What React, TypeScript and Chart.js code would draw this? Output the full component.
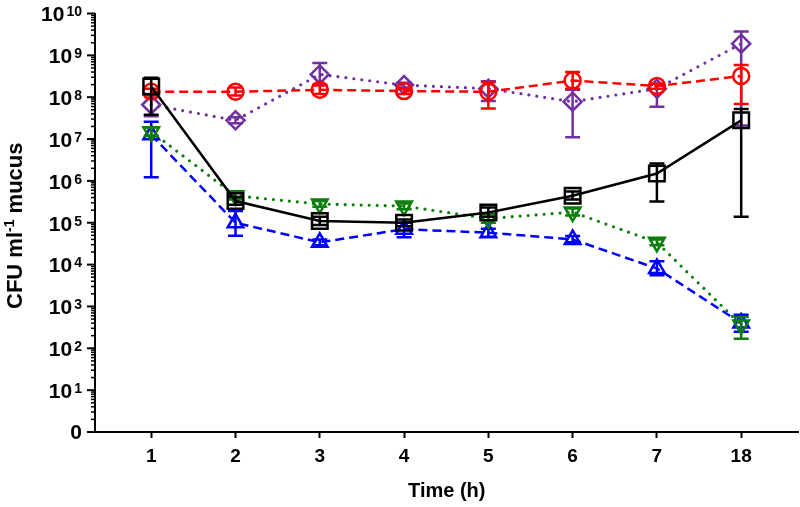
import React, { useEffect, useRef } from 'react';
import { Chart, registerables } from 'chart.js';

Chart.register(...registerables);

// ---- data ----
const TIME_LABELS = ['1', '2', '3', '4', '5', '6', '7', '18'];
const Y_TICKS = [1, 1e1, 1e2, 1e3, 1e4, 1e5, 1e6, 1e7, 1e8, 1e9, 1e10];

const BLACK = [1.8e8, 3.3e5, 1.1e5, 1.0e5, 1.75e5, 4.4e5, 1.5e6, 2.8e7];
const BLACK_LO = [3.8e7, 2.7e5, 8.8e4, 8.2e4, 1.4e5, 3.6e5, 3.2e5, 1.4e5];
const BLACK_HI = [2.9e8, 4.1e5, 1.4e5, 1.2e5, 2.3e5, 5.6e5, 2.6e6, 5.2e7];

const RED = [1.35e8, 1.35e8, 1.5e8, 1.4e8, 1.35e8, 2.5e8, 1.85e8, 3.2e8];
const RED_LO = [1.1e8, 1.1e8, 1.2e8, 1.2e8, 5.4e7, 1.6e8, 1.6e8, 6.9e7];
const RED_HI = [1.6e8, 1.7e8, 1.9e8, 1.6e8, 2.3e8, 4.0e8, 2.1e8, 5.9e8];

const PURPLE = [6.6e7, 2.8e7, 3.5e8, 1.95e8, 1.6e8, 7.8e7, 1.6e8, 1.9e9];
const PURPLE_LO = [3.5e7, 2.4e7, 2.0e8, 1.7e8, 8.1e7, 1.1e7, 5.9e7, 2.1e7];
const PURPLE_HI = [1.2e8, 3.3e7, 6.6e8, 2.2e8, 2.4e8, 1.5e8, 2.1e8, 3.7e9];

const GREEN = [1.5e7, 4.4e5, 2.8e5, 2.5e5, 1.26e5, 1.8e5, 3.4e4, 3.6e2];
const GREEN_LO = [1.2e7, 3.6e5, 2.4e5, 2.1e5, 1.0e5, 1.5e5, 2.9e4, 1.7e2];
const GREEN_HI = [1.9e7, 5.2e5, 3.3e5, 2.9e5, 1.6e5, 2.2e5, 4.0e4, 5.6e2];

const BLUE = [1.26e7, 1.0e5, 3.4e4, 7.0e4, 5.8e4, 4.0e4, 8.1e3, 4.0e2];
const BLUE_LO = [1.23e6, 4.9e4, 2.9e4, 4.5e4, 4.6e4, 3.4e4, 5.6e3, 2.5e2];
const BLUE_HI = [2.6e7, 1.9e5, 4.0e4, 1.0e5, 7.2e4, 4.8e4, 1.2e4, 6.3e2];

const FONT = "'Liberation Sans', Arial, Helvetica, sans-serif";

const toPoints = (vals: number[]) => vals.map((v, i) => ({ x: i, y: v }));

const ERRORS: { lo: number[]; hi: number[]; color: string }[] = [
  { lo: BLACK_LO, hi: BLACK_HI, color: '#000000' },
  { lo: RED_LO, hi: RED_HI, color: '#ff0000' },
  { lo: PURPLE_LO, hi: PURPLE_HI, color: '#7030a0' },
  { lo: GREEN_LO, hi: GREEN_HI, color: '#0b7d0b' },
  { lo: BLUE_LO, hi: BLUE_HI, color: '#0000ff' },
];

const errorBarPlugin = {
  id: 'errorBars',
  afterDatasetDraw(chart: any, args: any) {
    const e = ERRORS[args.index];
    if (!e) return;
    const ctx = chart.ctx;
    const xs = chart.scales.x;
    const ys = chart.scales.y;
    ctx.save();
    ctx.strokeStyle = e.color;
    ctx.lineWidth = 2.5;
    ctx.setLineDash([]);
    ctx.lineCap = 'butt';
    e.lo.forEach((l, i) => {
      const px = xs.getPixelForValue(i);
      const yl = ys.getPixelForValue(l);
      const yh = ys.getPixelForValue(e.hi[i]);
      ctx.beginPath();
      ctx.moveTo(px, yl);
      ctx.lineTo(px, yh);
      ctx.moveTo(px - 7.5, yl);
      ctx.lineTo(px + 7.5, yl);
      ctx.moveTo(px - 7.5, yh);
      ctx.lineTo(px + 7.5, yh);
      ctx.stroke();
    });
    ctx.restore();
  },
};

const SUP_MINUS = '-1';

const yAxisPlugin = {
  id: 'yAxisCustom',
  afterDraw(chart: any) {
    const ctx = chart.ctx;
    const ys = chart.scales.y;
    const left = chart.chartArea.left;
    ctx.save();
    ctx.strokeStyle = '#000';
    ctx.fillStyle = '#000';
    ctx.setLineDash([]);
    Y_TICKS.forEach((t, n) => {
      const py = ys.getPixelForValue(t);
      ctx.lineWidth = 2;
      ctx.beginPath();
      ctx.moveTo(left - 8, py);
      ctx.lineTo(left, py);
      ctx.stroke();
      if (n < Y_TICKS.length - 1) {
        ctx.lineWidth = 1.5;
        for (let k = 2; k <= 9; k++) {
          const pm = ys.getPixelForValue(k * t);
          ctx.beginPath();
          ctx.moveTo(left - 4, pm);
          ctx.lineTo(left, pm);
          ctx.stroke();
        }
      }
      const right = 82;
      ctx.textBaseline = 'middle';
      ctx.textAlign = 'right';
      if (n === 0) {
        ctx.font = `bold 21px ${FONT}`;
        ctx.fillText('0', right, py + 1);
      } else {
        const exp = String(n);
        ctx.font = `bold 14px ${FONT}`;
        const ew = ctx.measureText(exp).width;
        ctx.fillText(exp, right, py - 1);
        ctx.font = `bold 21px ${FONT}`;
        ctx.fillText('10', right - ew - 2, py + 2);
      }
    });

    // y axis title with superscript
    const cy = (chart.chartArea.top + chart.chartArea.bottom) / 2 + 3;
    const cx = 16;
    ctx.translate(cx, cy);
    ctx.rotate(-Math.PI / 2);
    const big = `bold 22px ${FONT}`;
    const small = `bold 14px ${FONT}`;
    const p1 = 'CFU ml';
    const p3 = ' mucus';
    ctx.font = big;
    const w1 = ctx.measureText(p1).width;
    const w3 = ctx.measureText(p3).width;
    ctx.font = small;
    const w2 = ctx.measureText(SUP_MINUS).width;
    const total = w1 + w2 + w3;
    let x0 = -total / 2;
    ctx.textAlign = 'left';
    ctx.textBaseline = 'middle';
    ctx.font = big;
    ctx.fillText(p1, x0, 0);
    x0 += w1;
    ctx.font = small;
    ctx.fillText(SUP_MINUS, x0, -6);
    x0 += w2;
    ctx.font = big;
    ctx.fillText(p3, x0, 0);
    ctx.restore();
  },
};

const CANVAS_W = 812;
const CANVAS_H = 507;

export default function App() {
  const ref = useRef<HTMLCanvasElement | null>(null);

  useEffect(() => {
    if (!ref.current) return;
    const dash = [9, 5];
    const dots = [0, 8];
    const chart = new Chart(ref.current, {
      type: 'line',
      data: {
        datasets: [
          {
            label: 'black',
            data: toPoints(BLACK),
            borderColor: '#000000',
            borderWidth: 2.5,
            pointStyle: 'rect',
            pointRadius: 11,
            pointBorderWidth: 2.5,
            pointBorderColor: '#000000',
            pointBackgroundColor: 'rgba(0,0,0,0)',
          },
          {
            label: 'red',
            data: toPoints(RED),
            borderColor: '#ff0000',
            borderWidth: 2.5,
            borderDash: dash,
            pointStyle: 'circle',
            pointRadius: 8,
            pointBorderWidth: 2.5,
            pointBorderColor: '#ff0000',
            pointBackgroundColor: 'rgba(0,0,0,0)',
          },
          {
            label: 'purple',
            data: toPoints(PURPLE),
            borderColor: '#7030a0',
            borderWidth: 3.2,
            borderDash: dots,
            borderCapStyle: 'round',
            pointStyle: 'rectRot',
            pointRadius: 9,
            pointBorderWidth: 2.5,
            pointBorderColor: '#7030a0',
            pointBackgroundColor: 'rgba(0,0,0,0)',
          },
          {
            label: 'green',
            data: toPoints(GREEN),
            borderColor: '#0b7d0b',
            borderWidth: 3.2,
            borderDash: dots,
            borderCapStyle: 'round',
            pointStyle: 'triangle',
            pointRotation: 180,
            pointRadius: 9,
            pointBorderWidth: 2.5,
            pointBorderColor: '#0b7d0b',
            pointBackgroundColor: 'rgba(0,0,0,0)',
          },
          {
            label: 'blue',
            data: toPoints(BLUE),
            borderColor: '#0000ff',
            borderWidth: 2.5,
            borderDash: dash,
            pointStyle: 'triangle',
            pointRadius: 9,
            pointBorderWidth: 2.5,
            pointBorderColor: '#0000ff',
            pointBackgroundColor: 'rgba(0,0,0,0)',
          },
        ],
      },
      options: {
        animation: false,
        responsive: false,
        maintainAspectRatio: false,
        layout: { padding: { top: 11, right: 0, left: 0, bottom: 0 } },
        plugins: {
          legend: { display: false },
          tooltip: { enabled: false },
        },
        scales: {
          x: {
            type: 'linear',
            min: -0.667,
            max: 7.68,
            afterBuildTicks: (scale: any) => {
              scale.ticks = TIME_LABELS.map((_, i) => ({ value: i }));
            },
            afterFit: (scale: any) => {
              scale.height = 75;
            },
            ticks: {
              autoSkip: false,
              maxRotation: 0,
              color: '#000',
              padding: 7,
              font: { family: FONT, size: 19, weight: 'bold' },
              callback: (v: any) => TIME_LABELS[Math.round(Number(v))] ?? '',
            },
            grid: {
              drawOnChartArea: false,
              drawTicks: true,
              tickLength: 6,
              tickWidth: 2,
              tickColor: '#000',
            },
            border: { display: true, color: '#000', width: 2 },
            title: {
              display: true,
              text: 'Time (h)',
              color: '#000',
              font: { family: FONT, size: 20, weight: 'bold' },
              padding: { top: 0, bottom: 4 },
            },
          },
          y: {
            type: 'logarithmic',
            min: 1,
            max: 1e10,
            afterFit: (scale: any) => {
              scale.width = 95;
            },
            ticks: { display: false },
            grid: { drawOnChartArea: false, drawTicks: false },
            border: { display: true, color: '#000', width: 2 },
          },
        },
      },
      plugins: [errorBarPlugin, yAxisPlugin],
    } as any);
    return () => chart.destroy();
  }, []);

  return (
    <div
      style={{
        position: 'absolute',
        left: 0,
        top: 0,
        width: 800,
        height: 507,
        overflow: 'hidden',
        background: '#fff',
      }}
    >
      <canvas
        ref={ref}
        width={CANVAS_W}
        height={CANVAS_H}
        style={{ width: CANVAS_W, height: CANVAS_H, display: 'block' }}
      />
    </div>
  );
}
